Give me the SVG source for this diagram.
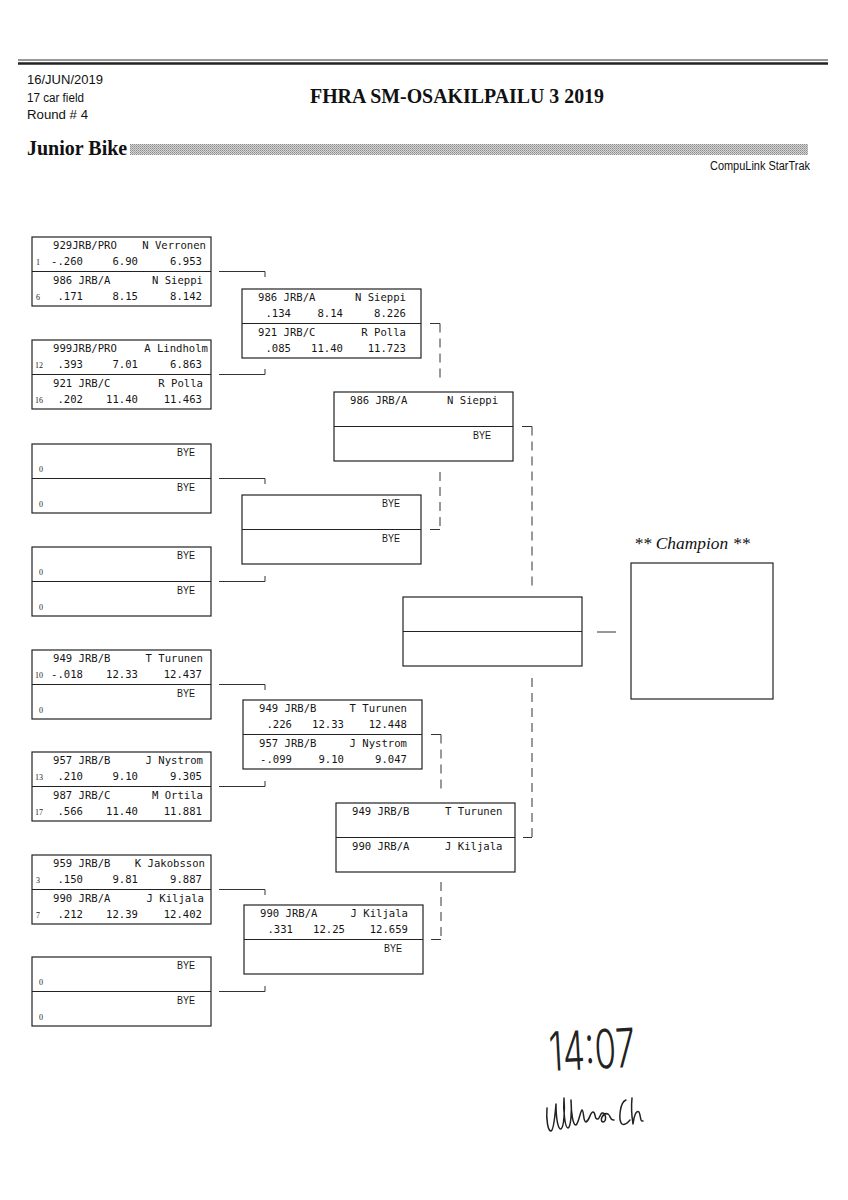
<svg xmlns="http://www.w3.org/2000/svg" width="848" height="1200" viewBox="0 0 848 1200">
<style>
.box{fill:none;stroke:#222;stroke-width:1.2}
.div{stroke:#222;stroke-width:1.2}
.t{font-family:"DejaVu Sans Mono","Liberation Mono",monospace;font-size:10.6px;fill:#151515}
.r{text-anchor:end}
.seed{font-family:"Liberation Serif",serif;font-size:8px;fill:#222}
.bye{font-family:"Liberation Sans Narrow","Liberation Sans",sans-serif;font-size:11.5px;fill:#151515;text-anchor:end}
.hdr{font-family:"Liberation Sans Narrow","Liberation Sans",sans-serif;font-size:12px;fill:#111}
.conn{fill:none;stroke:#333;stroke-width:1}
.dash{stroke-dasharray:9 6}
</style>
<defs>
<pattern id="stip" width="2" height="2" patternUnits="userSpaceOnUse">
<rect width="2" height="2" fill="#d4d4d4"/>
<rect width="1" height="1" fill="#8c8c8c"/>
<rect x="1" y="1" width="1" height="1" fill="#a8a8a8"/>
</pattern>
</defs>
<rect width="848" height="1200" fill="#fff"/>

<g id="header">
<line x1="18" y1="60" x2="828" y2="60" stroke="#333" stroke-width="1"/>
<line x1="18" y1="63.5" x2="828" y2="63.5" stroke="#222" stroke-width="2.4"/>
<text class="hdr" x="27" y="84" textLength="76" lengthAdjust="spacingAndGlyphs">16/JUN/2019</text>
<text class="hdr" x="27" y="102" textLength="57" lengthAdjust="spacingAndGlyphs">17 car field</text>
<text class="hdr" x="27" y="119" textLength="61" lengthAdjust="spacingAndGlyphs">Round # 4</text>
<text x="457" y="103" text-anchor="middle" font-family="'Liberation Serif',serif" font-weight="bold" font-size="20" fill="#111" textLength="294" lengthAdjust="spacingAndGlyphs">FHRA SM-OSAKILPAILU 3 2019</text>
<text x="27" y="155" font-family="'Liberation Serif',serif" font-weight="bold" font-size="20" fill="#111">Junior Bike</text>
<rect x="130" y="144" width="678" height="11" fill="url(#stip)"/>
<text class="hdr" x="810" y="170" text-anchor="end" textLength="100" lengthAdjust="spacingAndGlyphs">CompuLink StarTrak</text>
</g>

<g id="connectors">
<path class="conn" d="M219,271.5H265V277M219,374.5H265V369M219,478.5H265V484M219,581.5H265V576M219,684.5H265V690M219,786.5H265V781M219,889.5H265V895M219,991.5H265V986"/>
<path class="conn" d="M430,323.5H440M430,529.5H440M431,734.5H441M431,939.5H441M522,426.5H532M523,837.5H532M597,632H616"/>
<path class="conn dash" d="M440,323.5V382M440,472V529.5M441,734.5V792M441,882V939.5M532,426.5V586M532,678V837.5"/>
</g>

<g id="r1-a">
<rect class="box" x="32" y="237" width="179" height="69"/><line class="div" x1="32" y1="271.5" x2="211" y2="271.5"/>
<text class="t" x="53" y="249">929JRB/PRO</text><text class="t r" x="206" y="249">N Verronen</text>
<text class="seed" x="36" y="265">1</text><text class="t r" x="83" y="265">-.260</text><text class="t r" x="138" y="265">6.90</text><text class="t r" x="202" y="265">6.953</text>
<text class="t" x="53" y="283.5">986 JRB/A</text><text class="t r" x="203" y="283.5">N Sieppi</text>
<text class="seed" x="36" y="299.5">6</text><text class="t r" x="83" y="299.5">.171</text><text class="t r" x="138" y="299.5">8.15</text><text class="t r" x="202" y="299.5">8.142</text>
</g>
<g id="r1-b">
<rect class="box" x="32" y="340" width="179" height="69"/><line class="div" x1="32" y1="374.5" x2="211" y2="374.5"/>
<text class="t" x="53" y="352">999JRB/PRO</text><text class="t r" x="208" y="352">A Lindholm</text>
<text class="seed" x="35" y="368">12</text><text class="t r" x="83" y="368">.393</text><text class="t r" x="138" y="368">7.01</text><text class="t r" x="202" y="368">6.863</text>
<text class="t" x="53" y="386.5">921 JRB/C</text><text class="t r" x="203" y="386.5">R Polla</text>
<text class="seed" x="35" y="402.5">16</text><text class="t r" x="83" y="402.5">.202</text><text class="t r" x="138" y="402.5">11.40</text><text class="t r" x="202" y="402.5">11.463</text>
</g>
<g id="r1-c">
<rect class="box" x="32" y="444" width="179" height="69"/><line class="div" x1="32" y1="478.5" x2="211" y2="478.5"/>
<text class="bye" x="195" y="456" textLength="18" lengthAdjust="spacingAndGlyphs">BYE</text><text class="seed" x="39" y="472">0</text>
<text class="bye" x="195" y="490.5" textLength="18" lengthAdjust="spacingAndGlyphs">BYE</text><text class="seed" x="39" y="506.5">0</text>
</g>
<g id="r1-d">
<rect class="box" x="32" y="547" width="179" height="69"/><line class="div" x1="32" y1="581.5" x2="211" y2="581.5"/>
<text class="bye" x="195" y="559" textLength="18" lengthAdjust="spacingAndGlyphs">BYE</text><text class="seed" x="39" y="575">0</text>
<text class="bye" x="195" y="593.5" textLength="18" lengthAdjust="spacingAndGlyphs">BYE</text><text class="seed" x="39" y="609.5">0</text>
</g>
<g id="r1-e">
<rect class="box" x="32" y="650" width="179" height="69"/><line class="div" x1="32" y1="684.5" x2="211" y2="684.5"/>
<text class="t" x="53" y="662">949 JRB/B</text><text class="t r" x="203" y="662">T Turunen</text>
<text class="seed" x="35" y="678">10</text><text class="t r" x="83" y="678">-.018</text><text class="t r" x="138" y="678">12.33</text><text class="t r" x="202" y="678">12.437</text>
<text class="bye" x="195" y="696.5" textLength="18" lengthAdjust="spacingAndGlyphs">BYE</text><text class="seed" x="39" y="712.5">0</text>
</g>
<g id="r1-f">
<rect class="box" x="32" y="752" width="179" height="69"/><line class="div" x1="32" y1="786.5" x2="211" y2="786.5"/>
<text class="t" x="53" y="764">957 JRB/B</text><text class="t r" x="203" y="764">J Nystrom</text>
<text class="seed" x="35" y="780">13</text><text class="t r" x="83" y="780">.210</text><text class="t r" x="138" y="780">9.10</text><text class="t r" x="202" y="780">9.305</text>
<text class="t" x="53" y="798.5">987 JRB/C</text><text class="t r" x="203" y="798.5">M Ortila</text>
<text class="seed" x="35" y="814.5">17</text><text class="t r" x="83" y="814.5">.566</text><text class="t r" x="138" y="814.5">11.40</text><text class="t r" x="202" y="814.5">11.881</text>
</g>
<g id="r1-g">
<rect class="box" x="32" y="855" width="179" height="69"/><line class="div" x1="32" y1="889.5" x2="211" y2="889.5"/>
<text class="t" x="53" y="867">959 JRB/B</text><text class="t r" x="205" y="867">K Jakobsson</text>
<text class="seed" x="36" y="883">3</text><text class="t r" x="83" y="883">.150</text><text class="t r" x="138" y="883">9.81</text><text class="t r" x="202" y="883">9.887</text>
<text class="t" x="53" y="901.5">990 JRB/A</text><text class="t r" x="204" y="901.5">J Kiljala</text>
<text class="seed" x="36" y="917.5">7</text><text class="t r" x="83" y="917.5">.212</text><text class="t r" x="138" y="917.5">12.39</text><text class="t r" x="202" y="917.5">12.402</text>
</g>
<g id="r1-h">
<rect class="box" x="32" y="957" width="179" height="69"/><line class="div" x1="32" y1="991.5" x2="211" y2="991.5"/>
<text class="bye" x="195" y="969" textLength="18" lengthAdjust="spacingAndGlyphs">BYE</text><text class="seed" x="39" y="985">0</text>
<text class="bye" x="195" y="1003.5" textLength="18" lengthAdjust="spacingAndGlyphs">BYE</text><text class="seed" x="39" y="1019.5">0</text>
</g>

<g id="r2-a">
<rect class="box" x="242" y="289" width="179" height="69"/><line class="div" x1="242" y1="323.5" x2="421" y2="323.5"/>
<text class="t" x="258" y="301">986 JRB/A</text><text class="t r" x="406" y="301">N Sieppi</text>
<text class="t r" x="291" y="317">.134</text><text class="t r" x="343" y="317">8.14</text><text class="t r" x="406" y="317">8.226</text>
<text class="t" x="258" y="335.5">921 JRB/C</text><text class="t r" x="406" y="335.5">R Polla</text>
<text class="t r" x="291" y="351.5">.085</text><text class="t r" x="343" y="351.5">11.40</text><text class="t r" x="406" y="351.5">11.723</text>
</g>
<g id="r2-b">
<rect class="box" x="242" y="495" width="179" height="69"/><line class="div" x1="242" y1="529.5" x2="421" y2="529.5"/>
<text class="bye" x="400" y="507" textLength="18" lengthAdjust="spacingAndGlyphs">BYE</text>
<text class="bye" x="400" y="541.5" textLength="18" lengthAdjust="spacingAndGlyphs">BYE</text>
</g>
<g id="r2-c">
<rect class="box" x="243" y="700" width="179" height="69"/><line class="div" x1="243" y1="734.5" x2="422" y2="734.5"/>
<text class="t" x="259" y="712">949 JRB/B</text><text class="t r" x="407" y="712">T Turunen</text>
<text class="t r" x="292" y="728">.226</text><text class="t r" x="344" y="728">12.33</text><text class="t r" x="407" y="728">12.448</text>
<text class="t" x="259" y="746.5">957 JRB/B</text><text class="t r" x="407" y="746.5">J Nystrom</text>
<text class="t r" x="292" y="762.5">-.099</text><text class="t r" x="344" y="762.5">9.10</text><text class="t r" x="407" y="762.5">9.047</text>
</g>
<g id="r2-d">
<rect class="box" x="244" y="905" width="179" height="69"/><line class="div" x1="244" y1="939.5" x2="423" y2="939.5"/>
<text class="t" x="260" y="917">990 JRB/A</text><text class="t r" x="408" y="917">J Kiljala</text>
<text class="t r" x="293" y="933">.331</text><text class="t r" x="345" y="933">12.25</text><text class="t r" x="408" y="933">12.659</text>
<text class="bye" x="402" y="951.5" textLength="18" lengthAdjust="spacingAndGlyphs">BYE</text>
</g>

<g id="r3-a">
<rect class="box" x="334" y="392" width="179" height="69"/><line class="div" x1="334" y1="426.5" x2="513" y2="426.5"/>
<text class="t" x="350" y="404">986 JRB/A</text><text class="t" x="447" y="404">N Sieppi</text>
<text class="bye" x="491" y="438.5" textLength="18" lengthAdjust="spacingAndGlyphs">BYE</text>
</g>
<g id="r3-b">
<rect class="box" x="336" y="803" width="179" height="69"/><line class="div" x1="336" y1="837.5" x2="515" y2="837.5"/>
<text class="t" x="352" y="815">949 JRB/B</text><text class="t" x="445" y="815">T Turunen</text>
<text class="t" x="352" y="849.5">990 JRB/A</text><text class="t" x="445" y="849.5">J Kiljala</text>
</g>

<g id="final">
<rect class="box" x="403" y="597" width="179" height="69"/><line class="div" x1="403" y1="631.5" x2="582" y2="631.5"/>
</g>

<g id="champion">
<text x="634" y="549" font-family="'Liberation Serif',serif" font-style="italic" font-size="17.5" fill="#111" textLength="116" lengthAdjust="spacingAndGlyphs">** Champion **</text>
<rect class="box" x="631" y="563" width="142" height="136"/>
</g>

<g id="handwriting">
<text x="549" y="1069" font-family="Inter,'DejaVu Sans',sans-serif" font-weight="300" font-size="54" fill="#222" textLength="86" lengthAdjust="spacingAndGlyphs" transform="rotate(-3 590 1050)">14:07</text>
<path fill="none" stroke="#222" stroke-width="1.5" stroke-linecap="round" stroke-linejoin="round" d="M547,1108C546,1120 548,1131 551,1131C554,1130 555,1115 556,1104C556,1118 558,1130 561,1129C564,1127 565,1110 564,1098C563,1110 565,1128 568,1128C571,1127 572,1110 571,1100C571,1112 573,1126 576,1125C579,1122 580,1112 582,1110C584,1110 583,1122 586,1122C590,1120 590,1112 593,1112C596,1112 594,1120 598,1119C600,1118 600,1114 602,1113C606,1112 607,1122 603,1122C599,1121 603,1112 608,1114C611,1116 610,1121 614,1120M626,1100C620,1102 618,1120 622,1124C625,1126 628,1122 630,1120M632,1098C631,1108 632,1118 633,1124C634,1116 636,1110 639,1112C641,1116 640,1122 643,1121"/>
</g>
</svg>
